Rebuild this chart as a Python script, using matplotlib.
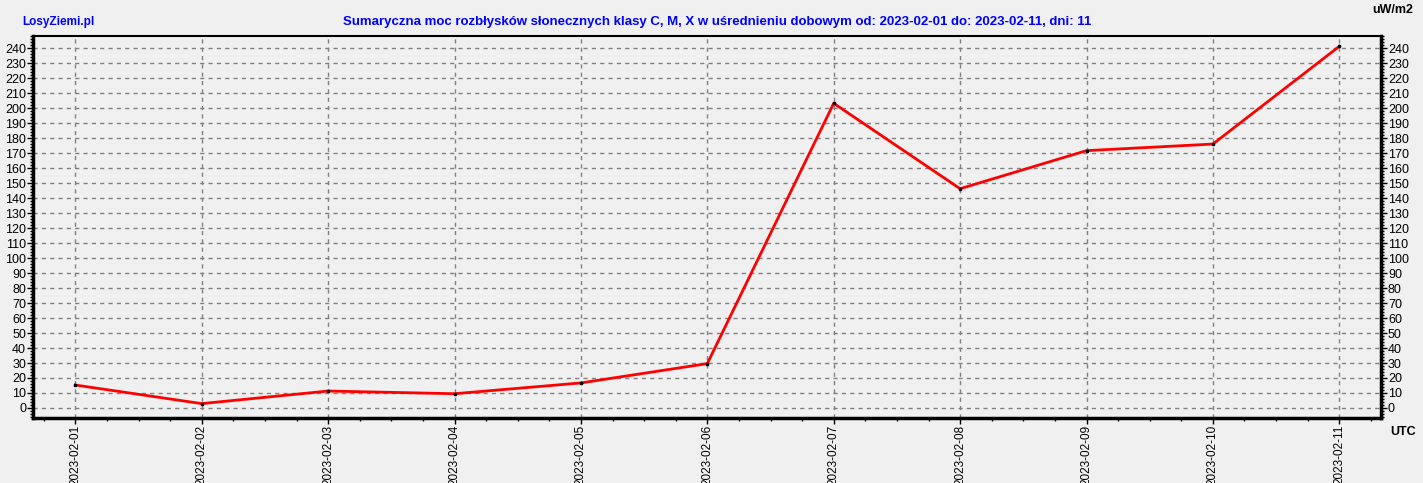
import numpy as np
import matplotlib
matplotlib.use("Agg")
import matplotlib.pyplot as plt
from matplotlib.ticker import MultipleLocator

DAYS = ["2023-02-01", "2023-02-02", "2023-02-03", "2023-02-04", "2023-02-05", "2023-02-06",
        "2023-02-07", "2023-02-08", "2023-02-09", "2023-02-10", "2023-02-11"]
POWER = [15.3, 2.9, 11.3, 9.5, 16.7, 29.6, 203.3, 146.3, 171.7, 176.1, 241.3]

TITLE = "Sumaryczna moc rozbłysków słonecznych klasy C, M, X w uśrednieniu dobowym od: 2023-02-01 do: 2023-02-11, dni: 11"
BG = "#f0f0f0"

def Main():
	plt.rcParams["font.family"] = ["Liberation Sans", "DejaVu Sans"]

	fig = plt.figure(figsize = (14.23, 4.83), dpi = 100, facecolor = BG)
	W, H = 1423.0, 483.0
	ax = fig.add_axes([33 / W, 1 - 418 / H, (1381 - 33) / W, (418 - 36) / H])
	ax.set_facecolor(BG)

	x = np.arange(len(DAYS))
	ax.plot(x, POWER, color = "red", linewidth = 2, zorder = 3)
	ax.plot(x, POWER, "s", color = "black", markersize = 1.5, zorder = 4)

	ax.set_xlim(-0.335, len(DAYS) - 1 + 0.33)
	ax.set_ylim(-6.7, 248.2)

	ax.set_xticks(x)
	ax.set_xticklabels(DAYS, rotation = 90, fontsize = 8.5)
	ax.xaxis.set_minor_locator(MultipleLocator(0.25))
	ax.yaxis.set_major_locator(MultipleLocator(10))
	ax.yaxis.set_minor_locator(MultipleLocator(2))
	ax.tick_params(axis = "y", which = "both", left = True, right = True,
		labelleft = True, labelright = True, labelsize = 9, pad = 1)
	ax.tick_params(axis = "both", which = "major", length = 4, width = 1, direction = "out", color = "black")
	ax.tick_params(axis = "both", which = "minor", length = 2, width = 1, direction = "out")
	ax.tick_params(axis = "x", which = "major", length = 4, pad = 1)

	for side in ["left", "bottom", "right"]:
		ax.spines[side].set_linewidth(2.5)
	ax.spines["top"].set_linewidth(1.5)

	ax.grid(True, which = "major", color = "#808080", linestyle = (0, (3, 3)), linewidth = 1)
	ax.set_axisbelow(True)

	fig.text(22 / W, 1 - 22 / H, "LosyZiemi.pl", color = "#0000ff", fontsize = 8.5,
		fontweight = "bold", va = "center", ha = "left")
	fig.text(717 / W, 1 - 22 / H, TITLE, color = "#0000ff", fontsize = 9.5,
		fontweight = "bold", va = "center", ha = "center")
	fig.text(1413 / W, 1 - 10 / H, "uW/m2", color = "black", fontsize = 9,
		fontweight = "bold", va = "center", ha = "right")
	fig.text(1416 / W, 1 - 432 / H, "UTC", color = "black", fontsize = 9,
		fontweight = "bold", va = "center", ha = "right")

	fig.savefig("out.png", dpi = 100, facecolor = BG)
	plt.close(fig)

if __name__ == "__main__":
	Main()
